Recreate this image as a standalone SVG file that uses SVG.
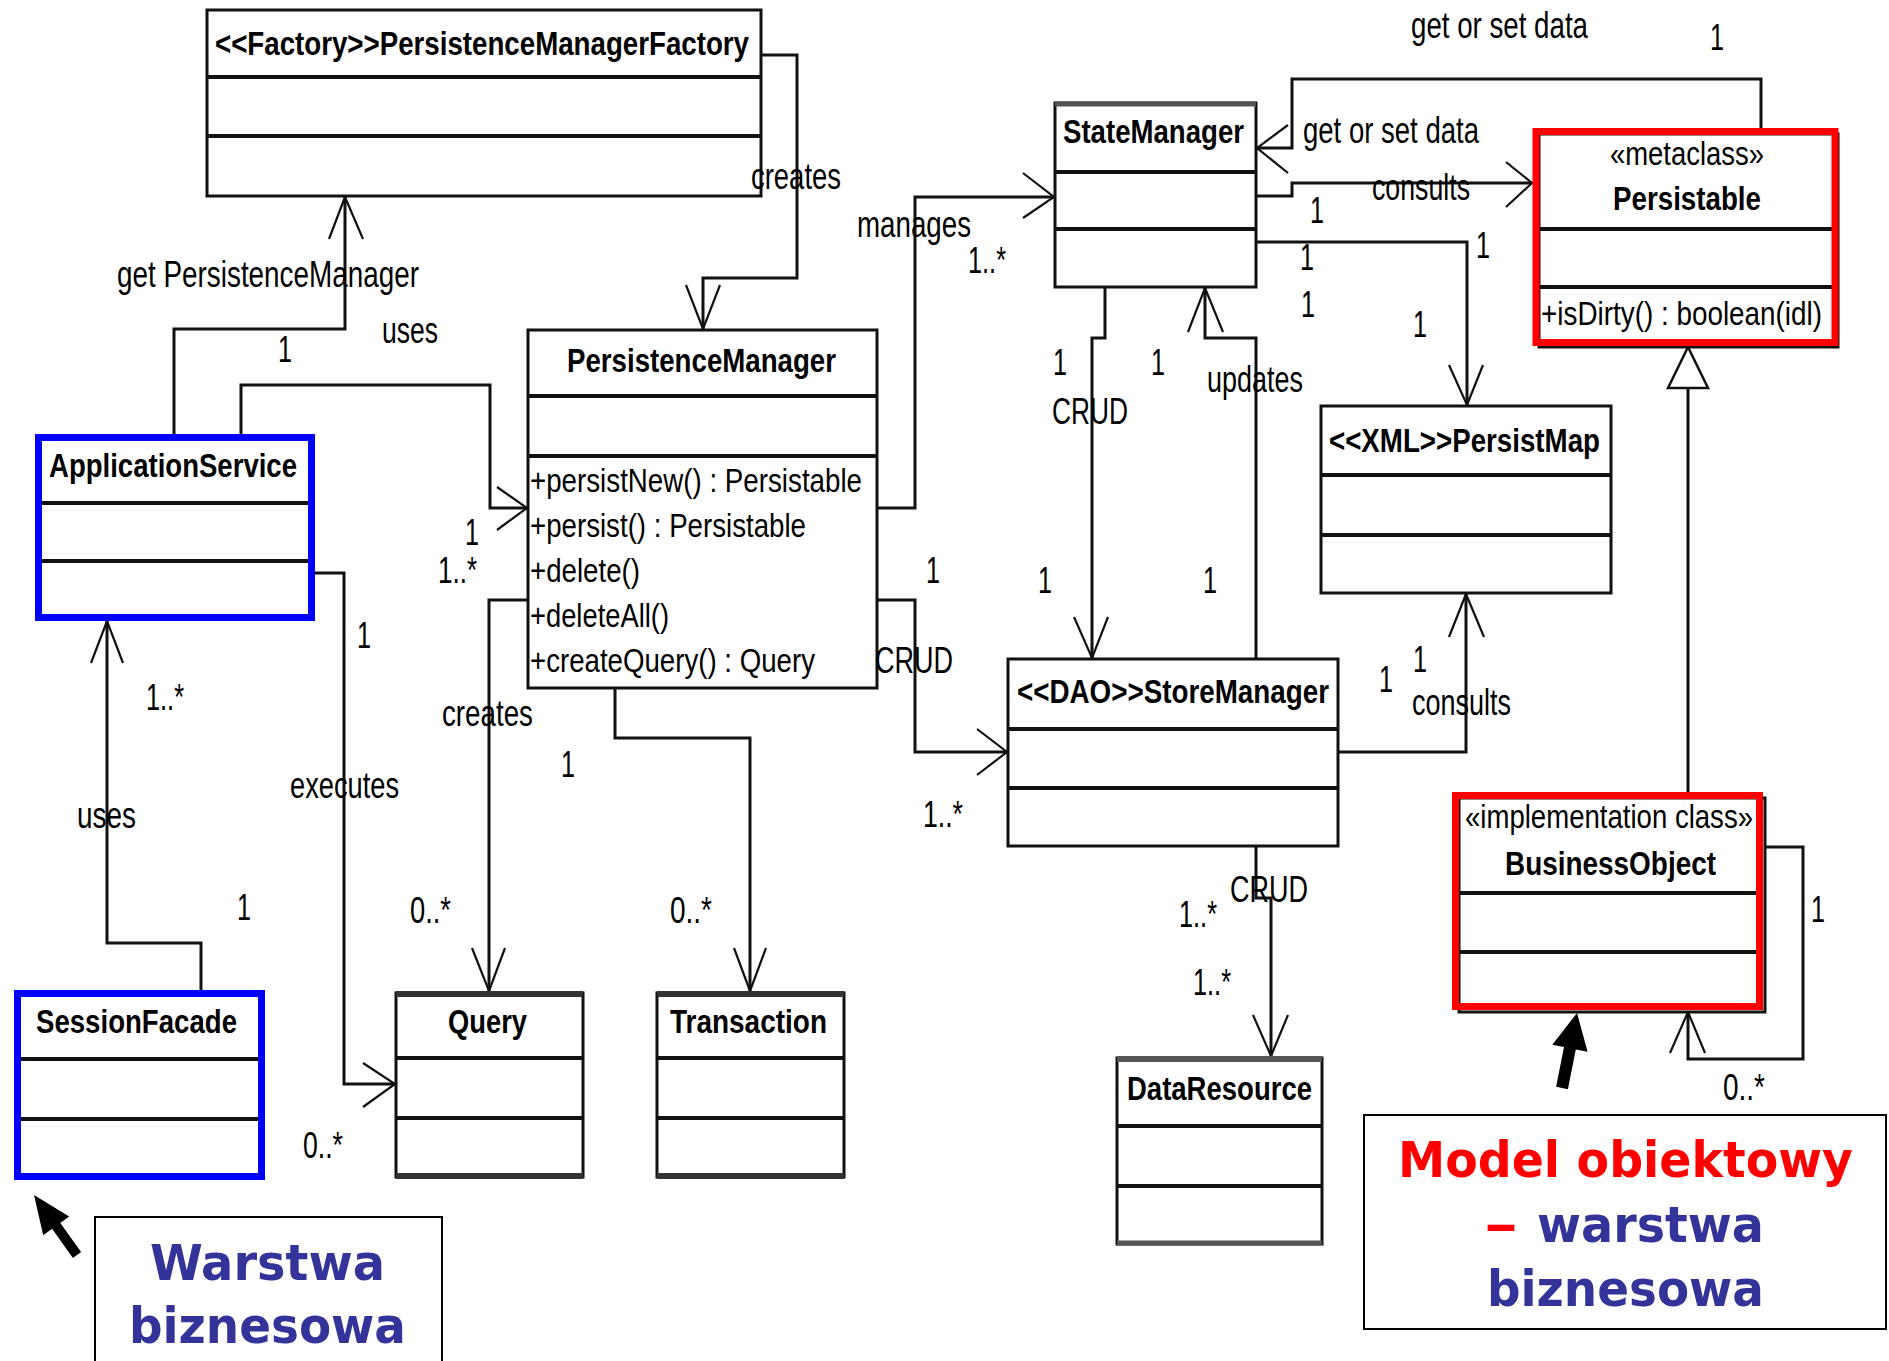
<svg xmlns="http://www.w3.org/2000/svg" width="1889" height="1361" viewBox="0 0 1889 1361">
<style>
.box{fill:#fff;stroke:#111;stroke-width:3}
.sep{stroke:#111;stroke-width:4}
.blue{fill:none;stroke:#0000ff;stroke-width:7}
.red{fill:none;stroke:#ff0000;stroke-width:7}
.t{font-family:"Liberation Sans",Arial,sans-serif;font-weight:bold;font-size:34px;fill:#000}
.m{font-family:"Liberation Sans",Arial,sans-serif;font-size:33px;fill:#000}
.l{font-family:"Liberation Sans",Arial,sans-serif;font-size:36px;fill:#000}
.c{fill:none;stroke:#111;stroke-width:3}
.a{fill:none;stroke:#111;stroke-width:2.2}
.note{fill:#fff;stroke:#000;stroke-width:2}
.n{font-family:"DejaVu Sans",Verdana,sans-serif;font-weight:bold;font-size:50px}
</style>
<rect width="1889" height="1361" fill="#fff"/>

<g id="connectors">
  <polyline class="c" points="174,435 174,329 345,329 345,197"/>
  <polyline class="a" points="329,239 345,197 363,239"/>
  <polyline class="c" points="241,435 241,385 490,385 490,508 527,508"/>
  <polyline class="a" points="497,487 527,508 497,530"/>
  <polyline class="c" points="761,55 797,55 797,278 703,278 703,329"/>
  <polyline class="a" points="686,285 703,329 720,285"/>
  <polyline class="c" points="877,508 915,508 915,197 1054,197"/>
  <polyline class="a" points="1023,173 1054,197 1023,218"/>
  <polyline class="c" points="877,600 915,600 915,752 1007,752"/>
  <polyline class="a" points="977,729 1007,752 977,775"/>
  <polyline class="c" points="528,600 489,600 489,991"/>
  <polyline class="a" points="472,948 489,991 505,948"/>
  <polyline class="c" points="615,688 615,738 750,738 750,991"/>
  <polyline class="a" points="734,948 750,991 766,948"/>
  <polyline class="c" points="312,573 344,573 344,1084 395,1084"/>
  <polyline class="a" points="363,1063 395,1084 363,1107"/>
  <polyline class="c" points="201,990 201,943 107,943 107,621"/>
  <polyline class="a" points="91,663 107,621 123,663"/>
  <polyline class="c" points="1105,287 1105,338 1092,338 1092,658"/>
  <polyline class="a" points="1074,617 1092,658 1108,617"/>
  <polyline class="c" points="1256,659 1256,338 1205,338 1205,288"/>
  <polyline class="a" points="1188,332 1205,288 1223,332"/>
  <polyline class="c" points="1256,242 1467,242 1467,405"/>
  <polyline class="a" points="1449,365 1467,405 1483,365"/>
  <polyline class="c" points="1256,196 1292,196 1292,183 1532,183"/>
  <polyline class="a" points="1506,162 1532,183 1506,207"/>
  <polyline class="c" points="1761,128 1761,79 1292,79 1292,148 1257,148"/>
  <polyline class="a" points="1288,125 1257,148 1288,173"/>
  <polyline class="c" points="1338,752 1466,752 1466,594"/>
  <polyline class="a" points="1449,637 1466,594 1484,637"/>
  <line class="c" x1="1688" y1="792" x2="1688" y2="388"/>
  <polygon points="1668,388 1688,347 1708,388" fill="#fff" stroke="#111" stroke-width="2.5"/>
  <polyline class="c" points="1765,847 1803,847 1803,1059 1688,1059 1688,1012"/>
  <polyline class="a" points="1670,1053 1688,1012 1705,1053"/>
  <polyline class="c" points="1256,846 1256,898 1271,898 1271,1056" stroke="#444"/>
  <polyline class="a" points="1253,1015 1271,1056 1288,1015"/>
</g>

<g id="factory">
  <rect class="box" x="207" y="10" width="554" height="186"/>
  <line class="sep" x1="207" y1="77" x2="761" y2="77"/>
  <line class="sep" x1="207" y1="136" x2="761" y2="136"/>
  <text class="t" x="215" y="55" textLength="534" lengthAdjust="spacingAndGlyphs">&lt;&lt;Factory&gt;&gt;PersistenceManagerFactory</text>
</g>

<g id="persistenceManager">
  <rect class="box" x="528" y="330" width="349" height="358"/>
  <line class="sep" x1="528" y1="396" x2="877" y2="396"/>
  <line class="sep" x1="528" y1="456" x2="877" y2="456"/>
  <text class="t" x="567" y="372" textLength="269" lengthAdjust="spacingAndGlyphs">PersistenceManager</text>
  <text class="m" x="530" y="492" textLength="332" lengthAdjust="spacingAndGlyphs">+persistNew() : Persistable</text>
  <text class="m" x="530" y="537" textLength="276" lengthAdjust="spacingAndGlyphs">+persist() : Persistable</text>
  <text class="m" x="530" y="582" textLength="110" lengthAdjust="spacingAndGlyphs">+delete()</text>
  <text class="m" x="530" y="627" textLength="139" lengthAdjust="spacingAndGlyphs">+deleteAll()</text>
  <text class="m" x="530" y="672" textLength="285" lengthAdjust="spacingAndGlyphs">+createQuery() : Query</text>
</g>

<g id="applicationService">
  <rect x="38.5" y="437.5" width="273" height="180" fill="#fff"/>
  <line class="sep" x1="42" y1="503" x2="308" y2="503"/>
  <line class="sep" x1="42" y1="561" x2="308" y2="561"/>
  <rect class="blue" x="38.5" y="437.5" width="273" height="180"/>
  <text class="t" x="49" y="477" textLength="248" lengthAdjust="spacingAndGlyphs">ApplicationService</text>
</g>

<g id="sessionFacade">
  <rect x="17.5" y="993.5" width="244" height="183" fill="#fff"/>
  <line class="sep" x1="21" y1="1059" x2="258" y2="1059"/>
  <line class="sep" x1="21" y1="1119" x2="258" y2="1119"/>
  <rect class="blue" x="17.5" y="993.5" width="244" height="183"/>
  <text class="t" x="36" y="1033" textLength="201" lengthAdjust="spacingAndGlyphs">SessionFacade</text>
</g>

<g id="query">
  <rect class="box" x="396" y="993" width="187" height="184"/>
  <line x1="396" y1="994" x2="583" y2="994" stroke="#333" stroke-width="6"/>
  <line x1="396" y1="1176" x2="583" y2="1176" stroke="#333" stroke-width="6"/>
  <line class="sep" x1="396" y1="1058" x2="583" y2="1058"/>
  <line class="sep" x1="396" y1="1118" x2="583" y2="1118"/>
  <text class="t" x="448" y="1033" textLength="79" lengthAdjust="spacingAndGlyphs">Query</text>
</g>

<g id="transaction">
  <rect class="box" x="657" y="993" width="187" height="184"/>
  <line x1="657" y1="994" x2="844" y2="994" stroke="#333" stroke-width="6"/>
  <line x1="657" y1="1176" x2="844" y2="1176" stroke="#333" stroke-width="6"/>
  <line class="sep" x1="657" y1="1058" x2="844" y2="1058"/>
  <line class="sep" x1="657" y1="1118" x2="844" y2="1118"/>
  <text class="t" x="670" y="1033" textLength="157" lengthAdjust="spacingAndGlyphs">Transaction</text>
</g>

<g id="stateManager">
  <rect class="box" x="1055" y="103" width="201" height="184"/>
  <line x1="1055" y1="104" x2="1256" y2="104" stroke="#555" stroke-width="5"/>
  <line class="sep" x1="1055" y1="172" x2="1256" y2="172"/>
  <line class="sep" x1="1055" y1="229" x2="1256" y2="229"/>
  <text class="t" x="1063" y="143" textLength="181" lengthAdjust="spacingAndGlyphs">StateManager</text>
</g>

<g id="persistable">
  <rect class="box" x="1539" y="134" width="299" height="213"/>
  <line class="sep" x1="1538" y1="229" x2="1834" y2="229" stroke-width="5"/>
  <line class="sep" x1="1538" y1="287" x2="1834" y2="287"/>
  <rect class="red" x="1536" y="131.5" width="299" height="211"/>
  <text class="m" x="1610" y="165" textLength="154" lengthAdjust="spacingAndGlyphs">«metaclass»</text>
  <text class="t" x="1613" y="210" textLength="148" lengthAdjust="spacingAndGlyphs">Persistable</text>
  <text class="m" x="1541" y="325" textLength="281" lengthAdjust="spacingAndGlyphs">+isDirty() : boolean(idl)</text>
</g>

<g id="persistMap">
  <rect class="box" x="1321" y="406" width="290" height="187"/>
  <line class="sep" x1="1321" y1="475" x2="1611" y2="475"/>
  <line class="sep" x1="1321" y1="535" x2="1611" y2="535"/>
  <text class="t" x="1329" y="452" textLength="271" lengthAdjust="spacingAndGlyphs">&lt;&lt;XML&gt;&gt;PersistMap</text>
</g>

<g id="storeManager">
  <rect class="box" x="1008" y="659" width="330" height="187"/>
  <line class="sep" x1="1008" y1="729" x2="1338" y2="729"/>
  <line class="sep" x1="1008" y1="788" x2="1338" y2="788"/>
  <text class="t" x="1017" y="703" textLength="312" lengthAdjust="spacingAndGlyphs">&lt;&lt;DAO&gt;&gt;StoreManager</text>
</g>

<g id="businessObject">
  <rect class="box" x="1459" y="798" width="306" height="214"/>
  <line class="sep" x1="1459" y1="893" x2="1763" y2="893"/>
  <line class="sep" x1="1459" y1="952" x2="1763" y2="952"/>
  <rect class="red" x="1455.5" y="795.5" width="304" height="211"/>
  <text class="m" x="1465" y="828" textLength="288" lengthAdjust="spacingAndGlyphs">«implementation class»</text>
  <text class="t" x="1505" y="875" textLength="211" lengthAdjust="spacingAndGlyphs">BusinessObject</text>
</g>

<g id="dataResource">
  <rect class="box" x="1117" y="1058" width="205" height="186"/>
  <line x1="1117" y1="1059" x2="1322" y2="1059" stroke="#555" stroke-width="6"/>
  <line x1="1117" y1="1243" x2="1322" y2="1243" stroke="#555" stroke-width="5"/>
  <line class="sep" x1="1117" y1="1126" x2="1322" y2="1126"/>
  <line class="sep" x1="1117" y1="1186" x2="1322" y2="1186"/>
  <text class="t" x="1127" y="1100" textLength="185" lengthAdjust="spacingAndGlyphs">DataResource</text>
</g>

<g id="connector-labels">
  <text class="l" x="117" y="287" textLength="302" lengthAdjust="spacingAndGlyphs">get PersistenceManager</text>
  <text class="l" x="278" y="362" textLength="14" lengthAdjust="spacingAndGlyphs">1</text>
  <text class="l" x="382" y="343" textLength="56" lengthAdjust="spacingAndGlyphs">uses</text>
  <text class="l" x="465" y="545" textLength="14" lengthAdjust="spacingAndGlyphs">1</text>
  <text class="l" x="438" y="583" textLength="39" lengthAdjust="spacingAndGlyphs">1..*</text>
  <text class="l" x="751" y="189" textLength="90" lengthAdjust="spacingAndGlyphs">creates</text>
  <text class="l" x="857" y="237" textLength="114" lengthAdjust="spacingAndGlyphs">manages</text>
  <text class="l" x="968" y="273" textLength="38" lengthAdjust="spacingAndGlyphs">1..*</text>
  <text class="l" x="875" y="673" textLength="78" lengthAdjust="spacingAndGlyphs">CRUD</text>
  <text class="l" x="926" y="583" textLength="14" lengthAdjust="spacingAndGlyphs">1</text>
  <text class="l" x="923" y="827" textLength="40" lengthAdjust="spacingAndGlyphs">1..*</text>
  <text class="l" x="442" y="726" textLength="91" lengthAdjust="spacingAndGlyphs">creates</text>
  <text class="l" x="410" y="923" textLength="41" lengthAdjust="spacingAndGlyphs">0..*</text>
  <text class="l" x="561" y="777" textLength="14" lengthAdjust="spacingAndGlyphs">1</text>
  <text class="l" x="670" y="923" textLength="42" lengthAdjust="spacingAndGlyphs">0..*</text>
  <text class="l" x="290" y="798" textLength="109" lengthAdjust="spacingAndGlyphs">executes</text>
  <text class="l" x="357" y="648" textLength="14" lengthAdjust="spacingAndGlyphs">1</text>
  <text class="l" x="303" y="1158" textLength="40" lengthAdjust="spacingAndGlyphs">0..*</text>
  <text class="l" x="146" y="710" textLength="38" lengthAdjust="spacingAndGlyphs">1..*</text>
  <text class="l" x="77" y="828" textLength="59" lengthAdjust="spacingAndGlyphs">uses</text>
  <text class="l" x="237" y="920" textLength="14" lengthAdjust="spacingAndGlyphs">1</text>
  <text class="l" x="1052" y="424" textLength="76" lengthAdjust="spacingAndGlyphs">CRUD</text>
  <text class="l" x="1053" y="375" textLength="14" lengthAdjust="spacingAndGlyphs">1</text>
  <text class="l" x="1038" y="593" textLength="14" lengthAdjust="spacingAndGlyphs">1</text>
  <text class="l" x="1207" y="392" textLength="96" lengthAdjust="spacingAndGlyphs">updates</text>
  <text class="l" x="1151" y="375" textLength="14" lengthAdjust="spacingAndGlyphs">1</text>
  <text class="l" x="1203" y="593" textLength="14" lengthAdjust="spacingAndGlyphs">1</text>
  <text class="l" x="1411" y="38" textLength="177" lengthAdjust="spacingAndGlyphs">get or set data</text>
  <text class="l" x="1710" y="50" textLength="14" lengthAdjust="spacingAndGlyphs">1</text>
  <text class="l" x="1303" y="143" textLength="176" lengthAdjust="spacingAndGlyphs">get or set data</text>
  <text class="l" x="1372" y="200" textLength="98" lengthAdjust="spacingAndGlyphs">consults</text>
  <text class="l" x="1310" y="223" textLength="14" lengthAdjust="spacingAndGlyphs">1</text>
  <text class="l" x="1300" y="270" textLength="14" lengthAdjust="spacingAndGlyphs">1</text>
  <text class="l" x="1476" y="258" textLength="14" lengthAdjust="spacingAndGlyphs">1</text>
  <text class="l" x="1301" y="317" textLength="14" lengthAdjust="spacingAndGlyphs">1</text>
  <text class="l" x="1413" y="337" textLength="14" lengthAdjust="spacingAndGlyphs">1</text>
  <text class="l" x="1412" y="715" textLength="99" lengthAdjust="spacingAndGlyphs">consults</text>
  <text class="l" x="1413" y="672" textLength="14" lengthAdjust="spacingAndGlyphs">1</text>
  <text class="l" x="1379" y="692" textLength="14" lengthAdjust="spacingAndGlyphs">1</text>
  <text class="l" x="1230" y="902" textLength="78" lengthAdjust="spacingAndGlyphs">CRUD</text>
  <text class="l" x="1179" y="927" textLength="38" lengthAdjust="spacingAndGlyphs">1..*</text>
  <text class="l" x="1193" y="995" textLength="38" lengthAdjust="spacingAndGlyphs">1..*</text>
  <text class="l" x="1811" y="922" textLength="14" lengthAdjust="spacingAndGlyphs">1</text>
  <text class="l" x="1723" y="1100" textLength="42" lengthAdjust="spacingAndGlyphs">0..*</text>
</g>

<g id="noteLeft">
  <rect class="note" x="95" y="1217" width="347" height="170"/>
  <text class="n" x="150" y="1280" fill="#333399" textLength="235" lengthAdjust="spacingAndGlyphs">Warstwa</text>
  <text class="n" x="129" y="1343" fill="#333399" textLength="277" lengthAdjust="spacingAndGlyphs">biznesowa</text>
  <polygon fill="#000" points="34,1195 69.2,1216.6 60.3,1223 81.1,1252.1 72.9,1257.9 52.1,1228.8 43.2,1235.2"/>
</g>

<g id="noteRight">
  <rect class="note" x="1364" y="1115" width="522" height="214"/>
  <text class="n" x="1398" y="1177" fill="#ff0000" textLength="455" lengthAdjust="spacingAndGlyphs">Model obiektowy</text>
  <text class="n" x="1484" y="1242" fill="#ff0000" textLength="34" lengthAdjust="spacingAndGlyphs">–</text>
  <text class="n" x="1537" y="1242" fill="#333399" textLength="227" lengthAdjust="spacingAndGlyphs">warstwa</text>
  <text class="n" x="1487" y="1306" fill="#333399" textLength="277" lengthAdjust="spacingAndGlyphs">biznesowa</text>
  <polygon fill="#000" points="1577,1013 1587.6,1051.8 1575.8,1049.5 1567.9,1089.2 1556.1,1086.8 1564,1047.1 1552.3,1044.8"/>
</g>
</svg>
